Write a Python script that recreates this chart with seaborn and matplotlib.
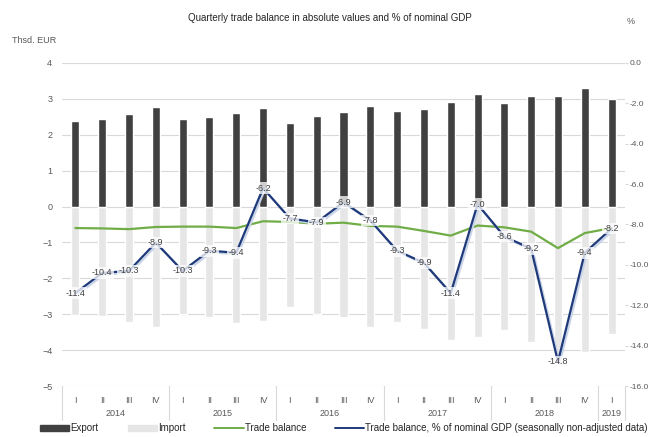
import numpy as np
import pandas as pd
import matplotlib
matplotlib.use("Agg")
import matplotlib.pyplot as plt
import matplotlib.patheffects as pe
from matplotlib.patches import Patch
from matplotlib.lines import Line2D
import seaborn as sns

years = ["2014", "2015", "2016", "2017", "2018", "2019"]
quarters = ["I", "II", "III", "IV"] * 5 + ["I"]
export = [2.39, 2.44, 2.57, 2.77, 2.44, 2.50, 2.61, 2.75, 2.34, 2.52, 2.64,
          2.80, 2.67, 2.73, 2.92, 3.14, 2.89, 3.09, 3.07, 3.30, 3.00]
imports = [-3.01, -3.06, -3.22, -3.35, -3.00, -3.09, -3.24, -3.18, -2.79, -3.00,
           -3.09, -3.36, -3.22, -3.42, -3.72, -3.64, -3.44, -3.78, -4.23, -4.06, -3.56]
balance = [-0.60, -0.61, -0.63, -0.57, -0.56, -0.56, -0.60, -0.41, -0.43, -0.48,
           -0.45, -0.54, -0.56, -0.68, -0.81, -0.53, -0.58, -0.70, -1.16, -0.74, -0.60]
balance_gdp = [-11.4, -10.4, -10.3, -8.9, -10.3, -9.3, -9.4, -6.2, -7.7, -7.9, -6.9,
               -7.8, -9.3, -9.9, -11.4, -7.0, -8.6, -9.2, -14.8, -9.4, -8.2]

df = pd.DataFrame({"pos": range(len(export)), "q": quarters, "export": export,
                   "import": imports, "balance": balance, "gdp": balance_gdp})

sns.set_style("white")
plt.rcParams["font.family"] = ["Liberation Sans Narrow", "Liberation Sans", "DejaVu Sans"]

c_exp = "#404040"
c_imp = "#e6e6e6"
c_bal = "#70ad47"
c_gdp = "#1f3a7a"
c_txt = "#595959"

fig = plt.figure(figsize=(6.49, 4.37), dpi=100)
ax = fig.add_axes([0.0955, 0.1167, 0.8675, 0.7393])

sns.barplot(data=df, x="pos", y="import", color=c_imp, width=0.3, ax=ax, zorder=2)
sns.barplot(data=df, x="pos", y="export", color=c_exp, width=0.3, ax=ax, zorder=2)
sns.lineplot(data=df, x="pos", y="balance", color=c_bal, lw=1.6, ax=ax, zorder=3)

ax.set_ylim(-5, 4)
ax.set_xlim(-0.5, len(export) - 0.5)
ax.set_yticks(range(-5, 5))
ax.grid(axis="y", color="#d9d9d9", lw=0.8, zorder=0)
ax.set_axisbelow(True)
for s in ax.spines.values():
    s.set_visible(False)
ax.set_xlabel("")
ax.set_ylabel("")
ax.set_xticks(df["pos"])
ax.set_xticklabels(quarters)
ax.tick_params(axis="x", length=0, pad=7, labelsize=6.5, colors=c_txt)
ax.tick_params(axis="y", length=0, pad=7, labelsize=6.5, colors=c_txt)

ax2 = ax.twinx()
sns.lineplot(data=df, x="pos", y="gdp", color=c_gdp, lw=1.6, ax=ax2, zorder=4,
             path_effects=[pe.SimpleLineShadow(offset=(1.2, -1.2), shadow_color="#c9d4e8", alpha=1),
                           pe.Normal()])
ax2.set_ylim(-16, 0)
ax2.set_yticks(np.arange(-16, 1, 2))
ax2.set_yticklabels([f"{v:.1f}" for v in np.arange(-16, 1, 2)])
ax2.tick_params(axis="y", length=2, pad=1, labelsize=6, colors=c_txt, color="#d9d9d9")
for s in ax2.spines.values():
    s.set_visible(False)
ax2.set_ylabel("")
ax2.set_xlim(-0.5, len(export) - 0.5)

for x, v in zip(df["pos"], balance_gdp):
    ax2.text(x, v, f"{v:.1f}", ha="center", va="center", fontsize=6.5, color="#404040", zorder=5,
             bbox=dict(boxstyle="square,pad=0.15", fc="white", ec="none", alpha=0.75))

# year labels and separators below the axis
trans = ax.get_xaxis_transform()
bounds = [-0.5, 3.5, 7.5, 11.5, 15.5, 19.5, 20.5]
for b in bounds:
    ax.plot([b, b], [0, -0.105], transform=trans, color="#d9d9d9", lw=0.8, clip_on=False)
for i, y in enumerate(years):
    ax.text((bounds[i] + bounds[i + 1]) / 2, -0.084, y, transform=trans, ha="center",
            va="center", fontsize=6.5, color=c_txt)

fig.text(0.508, 0.959, "Quarterly trade balance in absolute values and % of nominal GDP",
         ha="center", va="center", fontsize=7, color="#262626")
fig.text(0.018, 0.908, "Thsd. EUR", ha="left", va="center", fontsize=6.5, color=c_txt)
fig.text(0.965, 0.95, "%", ha="left", va="center", fontsize=6.5, color=c_txt)

handles = [Patch(color=c_exp), Patch(color=c_imp),
           Line2D([], [], color=c_bal, lw=1.4), Line2D([], [], color=c_gdp, lw=1.4)]
labels = ["Export", "Import", "Trade balance",
          "Trade balance, % of nominal GDP (seasonally non-adjusted data)"]
fig.legend(handles, labels, loc="lower center", bbox_to_anchor=(0.53, -0.012), ncol=4,
           frameon=False, fontsize=7, handlelength=3, handleheight=0.5,
           handletextpad=0.1, columnspacing=3)

fig.savefig("out.png", dpi=100)
